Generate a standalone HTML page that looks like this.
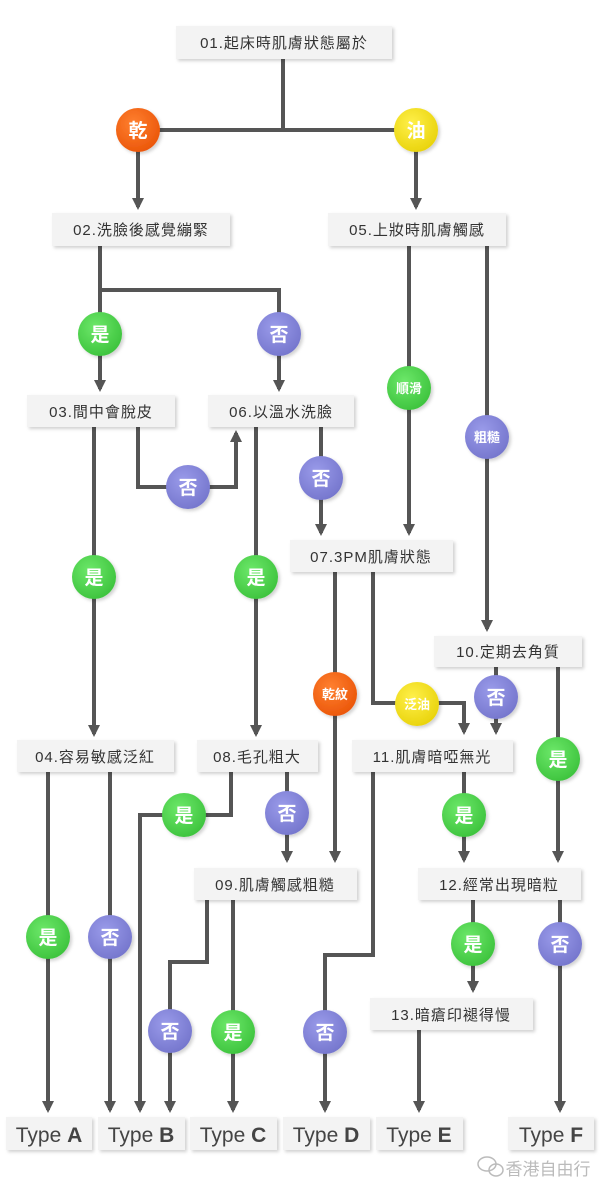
<!DOCTYPE html>
<html><head><meta charset="utf-8"><style>
html,body{margin:0;padding:0;background:#fff;}
svg{display:block}
.b{fill:#f3f3f3;filter:url(#sh)}
.t{font-family:"Liberation Sans","Noto Sans CJK TC",sans-serif;font-size:15px;fill:#333;text-anchor:middle;letter-spacing:1px}
.ty{font-family:"Liberation Sans",sans-serif;font-size:21px;fill:#444;text-anchor:middle}
.l{stroke:#555;stroke-width:4;fill:none}
.c{font-family:"Noto Sans CJK TC","WenQuanYi Zen Hei",sans-serif;font-weight:bold;fill:#fff;text-anchor:middle}
</style></head><body>
<svg width="600" height="1191" viewBox="0 0 600 1191" xmlns="http://www.w3.org/2000/svg">
<defs>
<filter id="sh" x="-10%" y="-20%" width="130%" height="160%"><feDropShadow dx="2" dy="2" stdDeviation="1.5" flood-color="#000" flood-opacity="0.18"/></filter>
<marker id="a" markerUnits="userSpaceOnUse" markerWidth="14" markerHeight="14" refX="9" refY="7" orient="auto" viewBox="0 0 14 14"><path d="M0,1 L12,7 L0,13 Z" fill="#555"/></marker>
<radialGradient id="g" cx="40%" cy="35%" r="70%"><stop offset="0" stop-color="#6de86a"/><stop offset="1" stop-color="#3cc23c"/></radialGradient>
<radialGradient id="p" cx="40%" cy="35%" r="70%"><stop offset="0" stop-color="#9a9bea"/><stop offset="1" stop-color="#7475cc"/></radialGradient>
<radialGradient id="o" cx="40%" cy="35%" r="70%"><stop offset="0" stop-color="#ff8030"/><stop offset="1" stop-color="#ea5508"/></radialGradient>
<radialGradient id="y" cx="40%" cy="35%" r="70%"><stop offset="0" stop-color="#fff04a"/><stop offset="1" stop-color="#e8d20a"/></radialGradient>
</defs>

<g class="l">
<path d="M283,59 V130 M138,130 H416"/>
<path d="M138,150 V207" marker-end="url(#a)"/>
<path d="M416,150 V207" marker-end="url(#a)"/>
<path d="M100,246 V389" marker-end="url(#a)"/>
<path d="M100,290 H279 V389" marker-end="url(#a)"/>
<path d="M409,246 V533" marker-end="url(#a)"/>
<path d="M487,246 V629" marker-end="url(#a)"/>
<path d="M94,427 V734" marker-end="url(#a)"/>
<path d="M138,427 V487 H236 V433" marker-end="url(#a)"/>
<path d="M256,427 V734" marker-end="url(#a)"/>
<path d="M321,427 V533" marker-end="url(#a)"/>
<path d="M335,572 V860" marker-end="url(#a)"/>
<path d="M373,572 V703 H464 V732" marker-end="url(#a)"/>
<path d="M496,667 V732" marker-end="url(#a)"/>
<path d="M558,667 V860" marker-end="url(#a)"/>
<path d="M48,772 V1110" marker-end="url(#a)"/>
<path d="M110,772 V1110" marker-end="url(#a)"/>
<path d="M231,772 V815 H140 V1110" marker-end="url(#a)"/>
<path d="M287,772 V860" marker-end="url(#a)"/>
<path d="M207,900 V962 H170 V1110" marker-end="url(#a)"/>
<path d="M233,900 V1110" marker-end="url(#a)"/>
<path d="M373,772 V955 H325 V1110" marker-end="url(#a)"/>
<path d="M464,772 V860" marker-end="url(#a)"/>
<path d="M473,900 V990" marker-end="url(#a)"/>
<path d="M560,900 V1110" marker-end="url(#a)"/>
<path d="M419,1030 V1110" marker-end="url(#a)"/>
</g>

<rect class="b" x="176" y="26" width="216" height="33"/><text class="t" x="284" y="48">01.起床時肌膚狀態屬於</text>
<rect class="b" x="52" y="213" width="178" height="33"/><text class="t" x="141" y="235">02.洗臉後感覺繃緊</text>
<rect class="b" x="328" y="213" width="178" height="33"/><text class="t" x="417" y="235">05.上妝時肌膚觸感</text>
<rect class="b" x="27" y="395" width="148" height="32"/><text class="t" x="101" y="417">03.間中會脫皮</text>
<rect class="b" x="208" y="395" width="146" height="32"/><text class="t" x="281" y="417">06.以溫水洗臉</text>
<rect class="b" x="290" y="540" width="163" height="32"/><text class="t" x="371" y="562">07.3PM肌膚狀態</text>
<rect class="b" x="434" y="636" width="148" height="31"/><text class="t" x="508" y="657">10.定期去角質</text>
<rect class="b" x="17" y="740" width="157" height="32"/><text class="t" x="95" y="762">04.容易敏感泛紅</text>
<rect class="b" x="197" y="740" width="121" height="32"/><text class="t" x="257" y="762">08.毛孔粗大</text>
<rect class="b" x="352" y="740" width="161" height="32"/><text class="t" x="432" y="762">11.肌膚暗啞無光</text>
<rect class="b" x="194" y="868" width="163" height="32"/><text class="t" x="275" y="890">09.肌膚觸感粗糙</text>
<rect class="b" x="418" y="868" width="163" height="32"/><text class="t" x="499" y="890">12.經常出現暗粒</text>
<rect class="b" x="370" y="998" width="163" height="32"/><text class="t" x="451" y="1020">13.暗瘡印褪得慢</text>

<rect class="b" x="6" y="1117" width="86" height="33"/><text class="ty" x="49" y="1142">Type <tspan font-weight="bold">A</tspan></text>
<rect class="b" x="98" y="1117" width="87" height="33"/><text class="ty" x="141" y="1142">Type <tspan font-weight="bold">B</tspan></text>
<rect class="b" x="190" y="1117" width="87" height="33"/><text class="ty" x="233" y="1142">Type <tspan font-weight="bold">C</tspan></text>
<rect class="b" x="283" y="1117" width="87" height="33"/><text class="ty" x="326" y="1142">Type <tspan font-weight="bold">D</tspan></text>
<rect class="b" x="376" y="1117" width="87" height="33"/><text class="ty" x="419" y="1142">Type <tspan font-weight="bold">E</tspan></text>
<rect class="b" x="508" y="1117" width="86" height="33"/><text class="ty" x="551" y="1142">Type <tspan font-weight="bold">F</tspan></text>

<g filter="url(#sh)">
<circle cx="138" cy="130" r="22" fill="url(#o)"/>
<circle cx="416" cy="130" r="22" fill="url(#y)"/>
<circle cx="100" cy="334" r="22" fill="url(#g)"/>
<circle cx="279" cy="334" r="22" fill="url(#p)"/>
<circle cx="409" cy="388" r="22" fill="url(#g)"/>
<circle cx="487" cy="437" r="22" fill="url(#p)"/>
<circle cx="188" cy="487" r="22" fill="url(#p)"/>
<circle cx="321" cy="478" r="22" fill="url(#p)"/>
<circle cx="94" cy="577" r="22" fill="url(#g)"/>
<circle cx="256" cy="577" r="22" fill="url(#g)"/>
<circle cx="335" cy="694" r="22" fill="url(#o)"/>
<circle cx="417" cy="704" r="22" fill="url(#y)"/>
<circle cx="496" cy="697" r="22" fill="url(#p)"/>
<circle cx="558" cy="759" r="22" fill="url(#g)"/>
<circle cx="184" cy="815" r="22" fill="url(#g)"/>
<circle cx="287" cy="813" r="22" fill="url(#p)"/>
<circle cx="464" cy="815" r="22" fill="url(#g)"/>
<circle cx="48" cy="937" r="22" fill="url(#g)"/>
<circle cx="110" cy="937" r="22" fill="url(#p)"/>
<circle cx="473" cy="944" r="22" fill="url(#g)"/>
<circle cx="560" cy="944" r="22" fill="url(#p)"/>
<circle cx="170" cy="1031" r="22" fill="url(#p)"/>
<circle cx="233" cy="1032" r="22" fill="url(#g)"/>
<circle cx="325" cy="1032" r="22" fill="url(#p)"/>
</g>
<g class="c" font-size="19">
<text x="138" y="137">乾</text><text x="416" y="137">油</text>
<text x="100" y="341">是</text><text x="279" y="341">否</text>
<text x="188" y="494">否</text><text x="321" y="485">否</text>
<text x="94" y="584">是</text><text x="256" y="584">是</text>
<text x="496" y="704">否</text><text x="558" y="766">是</text>
<text x="184" y="822">是</text><text x="287" y="820">否</text><text x="464" y="822">是</text>
<text x="48" y="944">是</text><text x="110" y="944">否</text>
<text x="473" y="951">是</text><text x="560" y="951">否</text>
<text x="170" y="1038">否</text><text x="233" y="1039">是</text><text x="325" y="1039">否</text>
</g>
<g class="c" font-size="13">
<text x="409" y="393">順滑</text><text x="487" y="442">粗糙</text>
<text x="335" y="699">乾紋</text><text x="417" y="709">泛油</text>
</g>

<g fill="none" stroke="#bbb" stroke-width="1.5">
<ellipse cx="487" cy="1164" rx="9" ry="7"/><ellipse cx="496" cy="1170" rx="7" ry="6"/>
</g>
<text x="548" y="1175" font-family="Noto Sans CJK TC,sans-serif" font-size="17" fill="#bbb" text-anchor="middle">香港自由行</text>
</svg>
</body></html>
